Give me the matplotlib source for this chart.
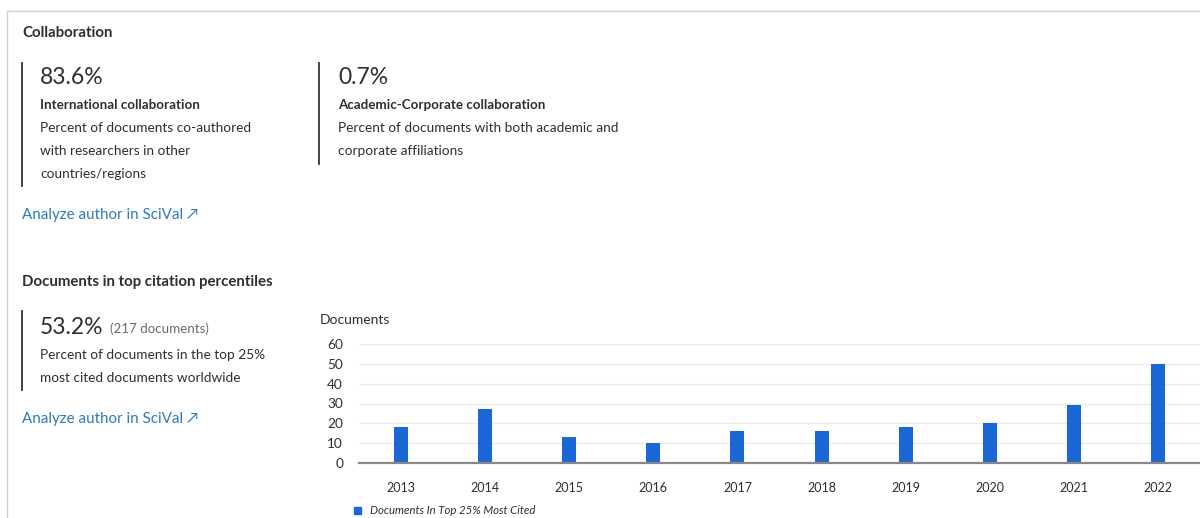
import matplotlib
matplotlib.use("Agg")
import matplotlib.pyplot as plt
from matplotlib.lines import Line2D

plt.rcParams['font.family'] = ['Lato', 'DejaVu Sans']

# Data
years = ['2013', '2014', '2015', '2016', '2017', '2018', '2019', '2020', '2021', '2022']
top25_docs = [18, 27, 13, 10, 16, 16, 18, 20, 29, 50]
y_ticks = [0, 10, 20, 30, 40, 50, 60]

W, H = 1200, 518
TEXT = '#2e2e2e'
GREY = '#6b6b6b'
LINK = '#2e7ab8'
BAR = '#1c67d6'


def fx(x):
    return x / W


def fy(y):
    return 1 - y / H


fig = plt.figure(figsize=(12, 5.18), dpi=100)
fig.patch.set_facecolor('white')


def txt(x, y, s, size=9.8, color=TEXT, weight='normal', **kw):
    fig.text(fx(x), fy(y), s, fontsize=size, color=color, weight=weight,
             va='center', ha='left', **kw)


def vbar(x, y0, y1):
    fig.add_artist(Line2D([fx(x), fx(x)], [fy(y0), fy(y1)], color='#333333',
                          lw=1.3, transform=fig.transFigure))


# card border
fig.add_artist(Line2D([fx(7), fx(7), 1.0], [0.0, fy(11), fy(11)],
                      color='#d0d0d0', lw=1.0, transform=fig.transFigure))

# Collaboration section
txt(22, 33, 'Collaboration', size=10.8, weight='bold')
vbar(22, 63, 186)
txt(40, 78, '83.6%', size=16.5)
txt(40, 105, 'International collaboration', size=9.6, weight='bold')
txt(40, 128, 'Percent of documents co-authored')
txt(40, 151, 'with researchers in other')
txt(40, 174, 'countries/regions')

vbar(319, 63, 164)
txt(338, 78, '0.7%', size=16.5)
txt(338, 105, 'Academic-Corporate collaboration', size=9.6, weight='bold')
txt(338, 128, 'Percent of documents with both academic and')
txt(338, 151, 'corporate affiliations')

txt(22, 215, 'Analyze author in SciVal \u2197', size=10.9, color=LINK)

# Citation percentiles section
txt(22, 282, 'Documents in top citation percentiles', size=10.8, weight='bold')
vbar(22, 311, 390)
txt(40, 327, '53.2%', size=16.5)
txt(110, 329, '(217 documents)', size=9.6, color=GREY)
txt(40, 355, 'Percent of documents in the top 25%')
txt(40, 378, 'most cited documents worldwide')
txt(22, 419, 'Analyze author in SciVal \u2197', size=10.9, color=LINK)

# Bar chart
ax = fig.add_axes([fx(359), fy(463), fx(1200) - fx(359), fy(344) - fy(463)])
x = range(len(years))
ax.bar(x, top25_docs, width=0.167, color=BAR, zorder=3)
ax.set_xlim(-0.5, len(years) - 0.5)
ax.set_ylim(0, 60)
ax.set_yticks(y_ticks)
ax.set_xticks(list(x))
ax.set_xticklabels(years)
ax.yaxis.grid(True, color='#ebebeb', lw=1.0, zorder=0)
for s in ['top', 'right', 'left']:
    ax.spines[s].set_visible(False)
ax.spines['bottom'].set_color('#888888')
ax.spines['bottom'].set_linewidth(1.6)
ax.spines['bottom'].set_zorder(4)
ax.tick_params(axis='both', length=0, colors=TEXT)
ax.tick_params(axis='y', labelsize=9.8, pad=11.5)
ax.tick_params(axis='x', labelsize=9, pad=14)
ax.set_facecolor('white')

txt(320, 320, 'Documents', size=10)

# legend
fig.add_artist(plt.Rectangle((fx(354), fy(514)), fx(7), 7 / H, color=BAR,
                             transform=fig.transFigure))
txt(370, 510, 'Documents In Top 25% Most Cited', size=8.2, style='italic')

fig.savefig('out.png', dpi=100, facecolor='white')
